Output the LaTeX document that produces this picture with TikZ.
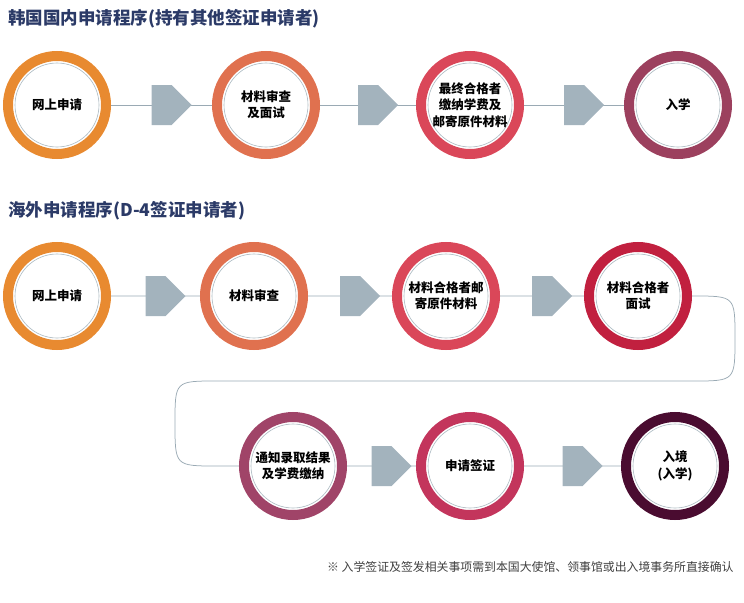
\documentclass[tikz,border=0pt]{standalone}
\usepackage{fontspec}
\setmainfont{Noto Sans CJK SC}
\usetikzlibrary{shapes.arrows,calc}
\definecolor{navy}{HTML}{2B3A67}
\definecolor{linegray}{HTML}{9AAAB4}
\definecolor{arrowgray}{HTML}{A3B3BD}
\definecolor{cA}{HTML}{E88A30}
\definecolor{cB}{HTML}{E0714F}
\definecolor{cC}{HTML}{DA4759}
\definecolor{cD}{HTML}{9C405E}
\definecolor{cE}{HTML}{C1203F}
\definecolor{cF}{HTML}{A04468}
\definecolor{cG}{HTML}{C3355C}
\definecolor{cH}{HTML}{4A0C30}
\newlength{\pxu}\setlength{\pxu}{0.8pt}
\tikzset{
    step circle/.style={
        circle,
        draw=#1, line width=8pt,
        fill=white,
        minimum size=98\pxu,
        inner sep=0pt,
        align=center,
        font=\bfseries\fontsize{10}{13}\selectfont,
        path picture={\draw[linegray!80, line width=0.5pt]
            (path picture bounding box.center) circle (42\pxu);}
    },
    flow/.style={draw=linegray, line width=0.6pt},
    block arrow/.style={
        single arrow, fill=arrowgray,
        minimum width=40\pxu,
        single arrow head extend=0pt,
        minimum height=40\pxu,
        inner sep=0pt
    },
    title/.style={anchor=west, text=navy, font=\bfseries\fontsize{14}{16}\selectfont}
}
\begin{document}
\begin{tikzpicture}[x=\pxu, y=-\pxu]
\useasboundingbox (0,0) rectangle (744,603);

\node[title] (t1) at (4,19) {韩国国内申请程序(持有其他签证申请者)};
\node[title] (t2) at (4,211) {海外申请程序(D-4签证申请者)};

% row one
\draw[flow] (57,105) -- (678,105);
\node[step circle=cA] (a1) at (57,105) {网上申请};
\node[step circle=cB] (a2) at (266,105) {材料审查\\及面试};
\node[step circle=cC] (a3) at (470,105) {最终合格者\\缴纳学费及\\邮寄原件材料};
\node[step circle=cD] (a4) at (678,105) {入学};
\foreach \i/\j in {a1/a2,a2/a3,a3/a4}
    \node[block arrow] at ($(\i)!0.5!(\j)$) {};

% row two and three
\draw[flow] (57,296) -- (693,296)
    .. controls (735,296) .. (735,338)
    .. controls (735,381) .. (693,381) -- (217,381)
    .. controls (175,381) .. (175,423)
    .. controls (175,466) .. (217,466) -- (675,466);
\node[step circle=cA] (b1) at (57,296) {网上申请};
\node[step circle=cB] (b2) at (254,296) {材料审查};
\node[step circle=cC] (b3) at (446,296) {材料合格者邮\\寄原件材料};
\node[step circle=cE] (b4) at (638,296) {材料合格者\\面试};
\node[step circle=cF] (c1) at (293,466) {通知录取结果\\及学费缴纳};
\node[step circle=cG] (c2) at (470,466) {申请签证};
\node[step circle=cH] (c3) at (675,466) {入境\\(入学)};
\foreach \i/\j in {b1/b2,b2/b3,b3/b4,c1/c2,c2/c3}
    \node[block arrow] at ($(\i)!0.5!(\j)$) {};

\node[anchor=east, text=black!75, font=\fontsize{9.5}{11}\selectfont] (note) at (738,567)
    {※ 入学签证及签发相关事项需到本国大使馆、领事馆或出入境事务所直接确认};
\end{tikzpicture}
\end{document}
